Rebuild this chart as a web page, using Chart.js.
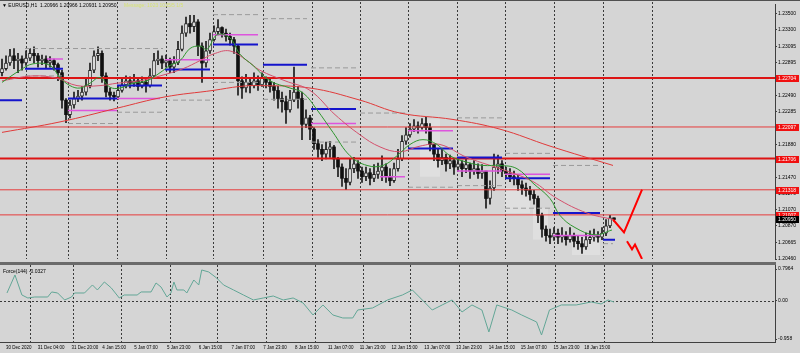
<!DOCTYPE html>
<html><head><meta charset="utf-8">
<script src="https://cdn.jsdelivr.net/npm/chart.js@4.4.1/dist/chart.umd.min.js"></script>
<style>
html,body{margin:0;padding:0;background:#d5d5d5;width:800px;height:353px;overflow:hidden;}
#wrap{position:relative;width:800px;height:353px;}
canvas{position:absolute;left:0;}
#c1{top:0;} #c2{top:263px;}
.bar{position:absolute;left:0;background:#6b6b6b;}
</style></head><body><div id="wrap">
<canvas id="c1" width="800" height="263"></canvas>
<canvas id="c2" width="800" height="90"></canvas>
<div class="bar" style="top:0;width:800px;height:1px;background:#505050"></div>
<div class="bar" style="top:262px;width:776px;height:3px;"></div>
</div>
<script>
// ---------- DATA (EURUSD H1) ----------
const openP=[1.2277,1.2282,1.2289,1.2298,1.2292,1.2294,1.2289,1.2295,1.2301,1.2298,
1.2292,1.2294,1.2289,1.2292,1.2287,1.2277,1.2243,1.2225,1.2237,1.2245,
1.2248,1.2253,1.2261,1.2280,1.2298,1.2301,1.2273,1.2253,1.2249,1.2247,
1.2255,1.2262,1.2267,1.2264,1.2267,1.2260,1.2265,1.2261,1.2273,1.2292,
1.2294,1.2289,1.2292,1.2284,1.2289,1.2306,1.2326,1.2338,1.2334,1.2340,
1.2310,1.2289,1.2304,1.2318,1.2328,1.2333,1.2326,1.2322,1.2318,1.2310,
1.2267,1.2258,1.2265,1.2261,1.2267,1.2262,1.2270,1.2265,1.2260,1.2255,
1.2245,1.2241,1.2231,1.2243,1.2253,1.2245,1.2213,1.2221,1.2207,1.2189,
1.2182,1.2176,1.2182,1.2185,1.2170,1.2160,1.2146,1.2141,1.2158,1.2164,
1.2155,1.2148,1.2153,1.2146,1.2151,1.2155,1.2160,1.2148,1.2143,1.2158,
1.2170,1.2192,1.2200,1.2207,1.2211,1.2209,1.2214,1.2209,1.2188,1.2176,
1.2168,1.2172,1.2164,1.2168,1.2160,1.2164,1.2158,1.2163,1.2155,1.2158,
1.2152,1.2155,1.2121,1.2134,1.2160,1.2164,1.2155,1.2152,1.2148,1.2146,
1.2138,1.2134,1.2131,1.2126,1.2121,1.2100,1.2083,1.2075,1.2073,1.2078,
1.2073,1.2075,1.2070,1.2075,1.2068,1.2065,1.2061,1.2070,1.2073,1.2075,
1.2073,1.2078,1.2087,1.2097];
const highP=[1.2294,1.2298,1.2306,1.2307,1.2301,1.2298,1.2304,1.2307,1.2309,1.2301,
1.2299,1.2298,1.2297,1.2294,1.2289,1.2280,1.2245,1.2243,1.2253,1.2255,
1.2260,1.2270,1.2289,1.2304,1.2309,1.2304,1.2277,1.2258,1.2253,1.2261,
1.2270,1.2273,1.2272,1.2275,1.2270,1.2272,1.2270,1.2282,1.2301,1.2304,
1.2298,1.2299,1.2295,1.2297,1.2316,1.2335,1.2346,1.2348,1.2348,1.2343,
1.2314,1.2316,1.2326,1.2335,1.2343,1.2334,1.2331,1.2326,1.2321,1.2311,
1.2272,1.2275,1.2271,1.2277,1.2273,1.2277,1.2272,1.2269,1.2265,1.2260,
1.2253,1.2248,1.2255,1.2284,1.2260,1.2253,1.2231,1.2224,1.2209,1.2194,
1.2188,1.2191,1.2192,1.2187,1.2172,1.2164,1.2158,1.2170,1.2172,1.2168,
1.2160,1.2160,1.2158,1.2163,1.2165,1.2174,1.2164,1.2158,1.2165,1.2182,
1.2199,1.2209,1.2214,1.2219,1.2216,1.2220,1.2222,1.2214,1.2188,1.2182,
1.2182,1.2176,1.2175,1.2170,1.2172,1.2168,1.2170,1.2165,1.2168,1.2164,
1.2163,1.2155,1.2143,1.2176,1.2175,1.2168,1.2160,1.2158,1.2155,1.2151,
1.2143,1.2140,1.2136,1.2131,1.2124,1.2103,1.2087,1.2083,1.2085,1.2083,
1.2085,1.2080,1.2085,1.2078,1.2075,1.2073,1.2078,1.2081,1.2083,1.2080,
1.2085,1.2095,1.2100,1.2097];
const lowP=[1.2273,1.2280,1.2286,1.2282,1.2277,1.2280,1.2286,1.2292,1.2289,1.2284,
1.2287,1.2282,1.2284,1.2280,1.2267,1.2233,1.2215,1.2221,1.2233,1.2241,
1.2243,1.2249,1.2258,1.2277,1.2292,1.2265,1.2247,1.2243,1.2242,1.2244,
1.2253,1.2258,1.2258,1.2260,1.2255,1.2258,1.2253,1.2259,1.2270,1.2287,
1.2282,1.2284,1.2277,1.2277,1.2287,1.2304,1.2322,1.2326,1.2328,1.2298,
1.2265,1.2284,1.2301,1.2316,1.2324,1.2321,1.2316,1.2311,1.2301,1.2249,
1.2245,1.2253,1.2252,1.2258,1.2255,1.2260,1.2258,1.2253,1.2243,1.2233,
1.2228,1.2214,1.2228,1.2241,1.2233,1.2194,1.2209,1.2194,1.2182,1.2172,
1.2168,1.2170,1.2172,1.2158,1.2148,1.2136,1.2132,1.2138,1.2153,1.2146,
1.2141,1.2143,1.2138,1.2142,1.2146,1.2143,1.2141,1.2137,1.2141,1.2155,
1.2168,1.2188,1.2197,1.2204,1.2202,1.2207,1.2202,1.2180,1.2168,1.2160,
1.2163,1.2155,1.2158,1.2151,1.2155,1.2148,1.2153,1.2146,1.2151,1.2146,
1.2146,1.2109,1.2114,1.2131,1.2152,1.2148,1.2146,1.2142,1.2138,1.2131,
1.2126,1.2124,1.2119,1.2114,1.2091,1.2073,1.2068,1.2065,1.2069,1.2065,
1.2067,1.2063,1.2067,1.2061,1.2058,1.2053,1.2058,1.2065,1.2068,1.2067,
1.2070,1.2075,1.2085,1.2093];
const closeP=[1.2282,1.2289,1.2298,1.2292,1.2294,1.2289,1.2295,1.2301,1.2298,1.2292,
1.2294,1.2289,1.2292,1.2287,1.2277,1.2243,1.2225,1.2237,1.2245,1.2248,
1.2253,1.2261,1.2280,1.2298,1.2301,1.2273,1.2253,1.2249,1.2247,1.2255,
1.2262,1.2267,1.2264,1.2267,1.2260,1.2265,1.2261,1.2273,1.2292,1.2294,
1.2289,1.2292,1.2284,1.2289,1.2306,1.2326,1.2338,1.2334,1.2340,1.2310,
1.2289,1.2304,1.2318,1.2328,1.2333,1.2326,1.2322,1.2318,1.2310,1.2267,
1.2258,1.2265,1.2261,1.2267,1.2262,1.2270,1.2265,1.2260,1.2255,1.2245,
1.2241,1.2231,1.2243,1.2253,1.2245,1.2213,1.2221,1.2207,1.2189,1.2182,
1.2176,1.2182,1.2185,1.2170,1.2160,1.2146,1.2141,1.2158,1.2164,1.2155,
1.2148,1.2153,1.2146,1.2151,1.2155,1.2160,1.2148,1.2143,1.2158,1.2170,
1.2192,1.2200,1.2207,1.2211,1.2209,1.2214,1.2209,1.2188,1.2176,1.2168,
1.2172,1.2164,1.2168,1.2160,1.2164,1.2158,1.2163,1.2155,1.2158,1.2152,
1.2155,1.2121,1.2134,1.2160,1.2164,1.2155,1.2152,1.2148,1.2146,1.2138,
1.2134,1.2131,1.2126,1.2121,1.2100,1.2083,1.2075,1.2073,1.2078,1.2073,
1.2075,1.2070,1.2075,1.2068,1.2065,1.2061,1.2070,1.2073,1.2075,1.2073,
1.2078,1.2087,1.2097,1.2095];

// moving averages (bar index, price)
const maFastX=[0,4.5,7.75,12,14.5,17,19.5,22,24.5,27,29.5,32.75,36.25,39.5,42,44.5,47,49.5,51.25,53.75,57,59.5,62.75,67,72,75.25,78.75,82.75,87,91.25,95.25,98.75,102,105.25,108.75,112,116.25,120.25,124.5,128.75,132.75,137,139.5,143.25,148.25,152.5];
const maFastV=[1.2265,1.2280,1.2288,1.2286,1.2271,1.2261,1.2258,1.2264,1.2271,1.2259,1.2258,1.2264,1.2267,1.2277,1.2286,1.2292,1.2307,1.2310,1.2306,1.2324,1.2320,1.2300,1.2286,1.2267,1.2258,1.2252,1.2231,1.2203,1.2174,1.2162,1.2162,1.2174,1.2188,1.2194,1.2188,1.2174,1.2166,1.2162,1.2162,1.2158,1.2140,1.2121,1.2100,1.2085,1.2076,1.2082];
const maMidX=[0,7.75,13.75,18.75,24.5,28.75,34.5,39.5,45.25,49.5,52.75,57,61.25,64.5,70.75,77,83.25,89.5,94.5,99.5,104.5,109.5,116.25,126.25,132.75,138.75,146.25,152.75];
const maMidV=[1.2267,1.2273,1.2270,1.2261,1.2261,1.2264,1.2267,1.2273,1.2282,1.2292,1.2300,1.2304,1.2292,1.2280,1.2267,1.2255,1.2225,1.2200,1.2185,1.2179,1.2186,1.2188,1.2172,1.2155,1.2142,1.2121,1.2103,1.2095];
const maSlowX=[0,14.5,28.75,40.75,52.75,59.5,64.5,77,89.5,99.5,112.75,124.5,137,152.75];
const maSlowV=[1.2203,1.2216,1.2233,1.2247,1.2255,1.2260,1.2261,1.2258,1.2243,1.2227,1.2219,1.2207,1.2186,1.2162];

// horizontal levels and daily segments [fromBar, toBar, price]
const levelP=[1.22704,1.22097,1.21706,1.21318,1.21007];
const levelBold=[true,false,true,false,false];
const blueSeg=[[-0.5,5,1.2243],[5.75,15.25,1.2282],[16.5,28.75,1.2245],[28.75,40,1.2261],[40.75,52,1.2281],[52.75,64,1.2312],[65.25,76.25,1.2287],[77.25,88.5,1.2232],[101.5,112.75,1.2183],[113.75,125,1.2172],[125.75,137,1.2146],[137.75,149.5,1.2103],[150.25,153.25,1.2070]];
const magSeg=[[11.25,15.25,1.2294],[16.5,28.75,1.2230],[28.75,39.5,1.2245],[40.75,52,1.2293],[52.75,64,1.2324],[77.25,88.5,1.2214],[94.5,100.75,1.2148],[101.5,112.75,1.2205],[113.75,125,1.2155],[125.75,137,1.2151],[137.75,149.5,1.2075]];
const graySeg=[[5.75,40.25,1.2307],[5.75,15.25,1.2273],[16.5,28.75,1.2214],[28.75,40.25,1.2228],[40.75,52,1.2243],[52.75,64,1.2349],[52.75,64,1.2265],[65.25,76.25,1.2344],[65.25,76.25,1.2244],[77.25,88.5,1.2283],[77.25,88.5,1.2191],[89.5,100.75,1.2227],[101.5,112.75,1.2135],[113.75,125,1.2221],[113.75,125,1.2137],[125.75,137,1.2177],[125.75,137,1.2109],[137.75,149.5,1.2162],[150.25,152.75,1.2065]];
const lightBox=[[104.5,109.5,1.2148,1.2219],[125.75,132,1.2103,1.2134],[132.75,136.5,1.2070,1.2109],[142.5,149.5,1.2051,1.2073]];
const zigUpX=[152.75,155.5,160], zigUpP=[1.2095,1.2079,1.2132];
const zigDnX=[156.25,157.5,158.25,160], zigDnP=[1.2068,1.2058,1.2064,1.2046];

// Force index
const forceX=[0,2,3.75,5.25,7,10.25,11.25,12.75,14.5,16.25,17,19.5,21.5,22.75,24.5,26.25,28.25,29.5,32.75,33.75,36.25,37.5,38.75,40.25,41.25,42,42.75,44.5,45.25,47,48.25,49,50.75,52.75,54.5,57,59.5,62,64.5,67,69.5,72,74.5,77,79.5,82,84.5,87,88.25,92,95.75,99.5,102,104.5,107,109.5,112,114.5,117,119.5,121.25,123.25,127,129.5,133.25,134.5,136.5,139.5,143.25,147,149.5,151.25,152.75];
const forceV=[0.195,0.647,0.145,0.070,0.095,0.095,0.221,0.195,0.020,0.095,0.195,0.195,0.396,0.271,0.471,0.321,0.070,0.145,0.145,0.221,0.221,0.446,0.346,0.095,0.195,0.471,0.271,0.271,0.195,0.521,0.396,0.772,0.722,0.571,0.396,0.271,0.145,0.020,0.070,0.120,0.020,0.070,-0.055,-0.356,-0.105,-0.356,-0.431,-0.431,-0.231,-0.180,0.020,0.145,0.271,0.020,-0.231,-0.105,0.020,-0.281,-0.105,-0.231,-0.782,-0.105,-0.231,-0.356,-0.531,-0.857,-0.231,-0.105,-0.105,-0.030,-0.080,0.020,-0.0327];

// axes
const priceTicks=[1.23500,1.23300,1.23095,1.22895,1.22490,1.22285,1.21880,1.21470,1.21270,1.21070,1.20870,1.20665,1.20460];
const forceTicks=[0.7964,0,-0.958];
const forceTickLabels=['0.7964','0.00','-0.958'];
const timePos=[-0.25,7.75,16.25,24,32,40.25,48.25,56.5,64.5,72.5,80.75,88.75,96.75,105,113,121.25,129.25,137.5,145.25];
const timeLabels=['30 Dec 2020','31 Dec 04:00','31 Dec 20:00','4 Jan 15:00','5 Jan 07:00','5 Jan 23:00','6 Jan 15:00','7 Jan 07:00','7 Jan 23:00','8 Jan 15:00','11 Jan 07:00','11 Jan 23:00','12 Jan 15:00','13 Jan 07:00','13 Jan 23:00','14 Jan 15:00','15 Jan 07:00','15 Jan 23:00','18 Jan 15:00'];
const gridPos=[5.9,16.6,28.7,40.9,52.75,65.2,77.4,89.5,101.5,113.7,125.75,138,150.2,162.4];
const lastPrice=1.20950;
const headerText='\u25BC EURUSD,H1  1.20966 1.20966 1.20931 1.20950';
const infoText='Message: 1023 1035/5 1/5';
const forceTitle='Force(144) -0.0327';

// ---------- CHART ----------
const F="'Liberation Sans', Arial, sans-serif";
const X_MIN=-0.5, X_MAX=193.25;
const pts=(xs,vs)=>xs.map((x,i)=>({x:x,y:vs[i]}));
function segData(list){const o=[];list.forEach(s=>{o.push({x:s[0],y:s[2]},{x:s[1],y:s[2]},{x:s[1],y:null});});return o;}
const lineDs=(data,color,w,extra)=>Object.assign({type:'line',data:data,borderColor:color,borderWidth:w,pointRadius:0,fill:false,spanGaps:false},extra||{});

function drawVGrid(chart,top,bottom){
  const {ctx,scales:{x}}=chart;
  ctx.save();ctx.strokeStyle='#3a3a3a';ctx.lineWidth=1;ctx.setLineDash([2,2]);
  gridPos.forEach(v=>{const px=Math.round(x.getPixelForValue(v))+0.5;ctx.beginPath();ctx.moveTo(px,top);ctx.lineTo(px,bottom);ctx.stroke();});
  ctx.restore();
}

const plugin1={id:'p1',
  beforeDatasetsDraw(chart){
    const {ctx,chartArea:a,scales:{x,y}}=chart;
    drawVGrid(chart,a.top-2,a.bottom);
    ctx.save();ctx.fillStyle='rgba(255,255,255,0.25)';
    lightBox.forEach(b=>{const x0=x.getPixelForValue(b[0]),x1=x.getPixelForValue(b[1]),y0=y.getPixelForValue(b[3]),y1=y.getPixelForValue(b[2]);ctx.fillRect(x0,y0,x1-x0,y1-y0);});
    ctx.restore();
  },
  afterDraw(chart){
    const {ctx,scales:{y}}=chart;
    ctx.save();
    ctx.font='5px '+F;ctx.textBaseline='middle';ctx.textAlign='left';
    const tag=(v,bg)=>{const py=Math.round(y.getPixelForValue(v));ctx.fillStyle=bg;ctx.fillRect(776,py-3,23,7);ctx.fillStyle='#ffffff';ctx.fillText(v.toFixed(5),778,py+0.5);};
    levelP.forEach(v=>tag(v,'#f01010'));
    tag(lastPrice,'#000000');
    ctx.fillStyle='#000';ctx.fillText(headerText,2,6);
    ctx.fillStyle='#d6e274';ctx.fillText(infoText,124,6);
    ctx.restore();
  }};

const datasets1=[
  lineDs(pts(zigUpX,zigUpP),'#ff0000',2,{order:0}),
  lineDs(pts(zigDnX,zigDnP),'#ff0000',2,{order:0}),
  lineDs(pts(maFastX,maFastV),'#2f962f',1,{order:1,tension:0.4}),
  lineDs(pts(maMidX,maMidV),'#d4506c',1,{order:1,tension:0.4}),
  lineDs(pts(maSlowX,maSlowV),'#e03a3a',1,{order:1,tension:0.4}),
  lineDs(segData(blueSeg),'#1414cc',2,{order:2}),
  lineDs(segData(magSeg),'#dd55dd',1.5,{order:2}),
  lineDs(segData(graySeg),'#9a9a9a',1,{order:2,borderDash:[5,3]}),
];
levelP.forEach((v,i)=>datasets1.push(lineDs([{x:X_MIN,y:v},{x:X_MAX,y:v}],levelBold[i]?'#dd1414':'#e63c3c',levelBold[i]?2:1,{order:3})));
datasets1.push({type:'bar',data:closeP.map((c,i)=>({x:i,y:[openP[i],c]})),grouped:false,barThickness:3,minBarLength:1,
  backgroundColor:(c)=>{const i=c.dataIndex;if(i===undefined)return '#000';return closeP[i]>=openP[i]?'#ffffff':'#111111';},
  borderColor:(c)=>{const i=c.dataIndex;if(i===undefined)return '#000';return closeP[i]>=openP[i]?'#222222':'#111111';},
  borderWidth:(c)=>{const i=c.dataIndex;if(i===undefined)return 0;return closeP[i]>=openP[i]?1:0;},
  borderSkipped:false,order:5});
datasets1.push({type:'bar',data:closeP.map((c,i)=>({x:i,y:[lowP[i],highP[i]]})),grouped:false,barThickness:1,backgroundColor:'#1a1a1a',borderWidth:0,order:6});

new Chart(document.getElementById('c1'),{
  type:'bar',
  data:{datasets:datasets1},
  options:{responsive:false,animation:false,events:[],
    layout:{padding:{top:2,bottom:1,left:0,right:0}},
    plugins:{legend:{display:false},tooltip:{enabled:false}},
    scales:{
      x:{type:'linear',min:X_MIN,max:X_MAX,display:false,offset:false},
      y:{position:'right',min:1.20460,max:1.23622,
        afterBuildTicks(s){s.ticks=priceTicks.map(v=>({value:v}));},
        afterFit(s){s.width=25;},
        ticks:{font:{size:5,family:F},color:'#000',padding:1,autoSkip:false,callback:v=>Number(v).toFixed(5)},
        grid:{drawOnChartArea:false,drawTicks:true,tickLength:2,color:'#404040'},
        border:{display:true,color:'#404040'}}
    }},
  plugins:[plugin1]
});

const plugin2={id:'p2',
  beforeDatasetsDraw(chart){
    const {ctx,chartArea:a,scales:{y}}=chart;
    drawVGrid(chart,2,79);
    ctx.save();ctx.strokeStyle='#3a3a3a';ctx.lineWidth=1;ctx.setLineDash([2,2]);
    const py=Math.round(y.getPixelForValue(0))+0.5;ctx.beginPath();ctx.moveTo(0,py);ctx.lineTo(a.right,py);ctx.stroke();
    ctx.restore();
  },
  afterDraw(chart){
    const {ctx,chartArea:a}=chart;
    ctx.save();
    ctx.fillStyle='#404040';ctx.fillRect(a.right,0,1,80);ctx.fillRect(0,79,a.right+1,1);
    ctx.font='5px '+F;ctx.textBaseline='middle';ctx.fillStyle='#000';ctx.fillText(forceTitle,3,9);
    ctx.restore();
  }};

new Chart(document.getElementById('c2'),{
  type:'line',
  data:{datasets:[lineDs(pts(forceX,forceV),'#62a696',1,{tension:0})]},
  options:{responsive:false,animation:false,events:[],
    layout:{padding:{top:6,bottom:0,left:0,right:0}},
    plugins:{legend:{display:false},tooltip:{enabled:false}},
    scales:{
      x:{type:'linear',min:X_MIN,max:X_MAX,position:'bottom',offset:false,
        afterBuildTicks(s){s.ticks=timePos.map(v=>({value:v}));},
        afterFit(s){s.height=14;},
        ticks:{font:{size:4.5,family:F},color:'#000',align:'start',maxRotation:0,minRotation:0,autoSkip:false,padding:6,callback:(v,i)=>timeLabels[i]},
        grid:{display:false,drawTicks:false,tickLength:0},border:{display:false}},
      y:{position:'right',min:-0.958,max:0.7964,
        afterBuildTicks(s){s.ticks=forceTicks.map(v=>({value:v}));},
        afterFit(s){s.width=25;},
        ticks:{font:{size:5,family:F},color:'#000',padding:1,autoSkip:false,callback:(v,i)=>forceTickLabels[i]},
        grid:{drawOnChartArea:false,drawTicks:true,tickLength:2,color:'#404040'},
        border:{display:false}}
    }},
  plugins:[plugin2]
});
</script>
</body></html>
